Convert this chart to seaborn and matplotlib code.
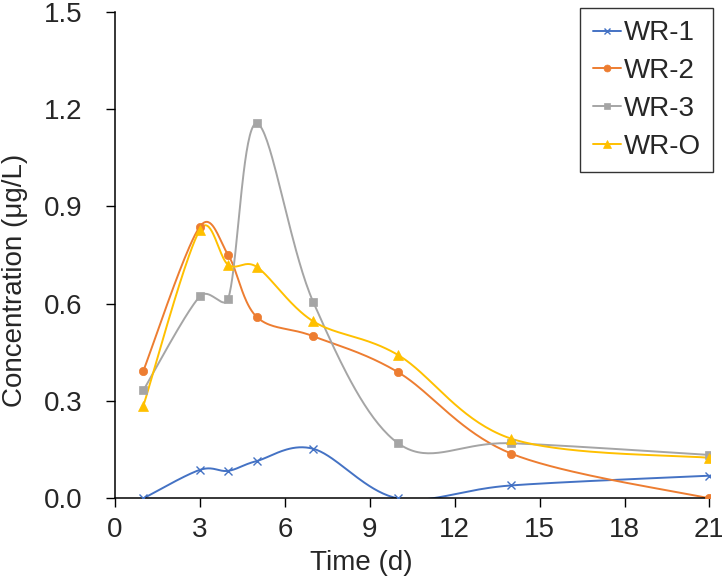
import numpy as np
import matplotlib
matplotlib.use("Agg")
import matplotlib.pyplot as plt
from matplotlib.lines import Line2D
import seaborn as sns

sns.set_style("ticks")
plt.rcParams['font.family'] = ['Liberation Sans', 'DejaVu Sans']

days = [1, 3, 4, 5, 7, 10, 14, 21]
wr1 = [0.0, 0.088, 0.085, 0.115, 0.153, 0.0, 0.040, 0.070]
wr2 = [0.393, 0.838, 0.750, 0.560, 0.500, 0.389, 0.138, 0.0]
wr3 = [0.333, 0.623, 0.616, 1.156, 0.606, 0.170, 0.170, 0.134]
wro = [0.285, 0.828, 0.720, 0.714, 0.546, 0.442, 0.184, 0.125]

names = ['WR-1', 'WR-2', 'WR-3', 'WR-O']
series = [wr1, wr2, wr3, wro]
colors = ['#4472C4', '#ED7D31', '#A5A5A5', '#FFC000']
markers = ['x', 'o', 's', '^']
msizes = [6, 6, 6, 7]

# pixel scale of the axes, used so the smoothing behaves like excel's
SX, SY = 594.5 / 21, 486.6 / 1.5


def smooth(xs, ys, n=40):
    # excel-like smoothed line: bezier segments, control arms kept short
    p = np.column_stack([np.array(xs) * SX, np.array(ys) * SY]).astype(float)
    p = np.vstack([p[0], p, p[-1]])
    out = []
    t = np.linspace(0, 1, n)[:, None]
    for i in range(1, len(p) - 2):
        a, b = p[i], p[i + 1]
        chord = np.linalg.norm(b - a)
        d1 = (p[i + 1] - p[i - 1]) / 6
        d2 = (p[i + 2] - p[i]) / 6
        for d in (d1, d2):
            L = np.linalg.norm(d)
            if L > 0.5 * chord:
                d *= 0.5 * chord / L
        c1 = a + d1
        c2 = b - d2
        seg = (1 - t) ** 3 * a + 3 * (1 - t) ** 2 * t * c1 + 3 * (1 - t) * t ** 2 * c2 + t ** 3 * b
        out.append(seg if i == 1 else seg[1:])
    s = np.vstack(out)
    return s[:, 0] / SX, s[:, 1] / SY


fig = plt.figure(figsize=(7.22, 5.81), dpi=100)
ax = fig.add_axes([115 / 722, 1 - 498.4 / 581, 594.5 / 722, 486.6 / 581])

handles = []
for name, ys, col, mk, ms in zip(names, series, colors, markers, msizes):
    sx, sy = smooth(days, ys)
    sns.lineplot(x=sx, y=sy, ax=ax, color=col, linewidth=1.4, sort=False, estimator=None)
    mew = 1.0 if mk == 'x' else 0.5
    ax.plot(days, ys, linestyle='none', marker=mk, color=col, markersize=ms,
            markeredgewidth=mew, zorder=3)
    handles.append(Line2D([], [], color=col, linewidth=1.4, marker=mk, markersize=ms - 1,
                          markeredgewidth=mew, label=name))

ax.set_xlim(0, 21)
ax.set_ylim(0, 1.5)
ax.set_xticks(range(0, 22, 3))
ax.set_yticks(np.arange(0, 1.51, 0.3))
ax.set_yticklabels(['0.0', '0.3', '0.6', '0.9', '1.2', '1.5'])
ax.tick_params(axis='both', labelsize=20, length=6.5, width=1.0, color='black')
ax.tick_params(axis='y', pad=17)
ax.tick_params(axis='x', pad=7)
for sp in ['top', 'right']:
    ax.spines[sp].set_visible(False)
for sp in ['left', 'bottom']:
    ax.spines[sp].set_linewidth(1.1)
    ax.spines[sp].set_color('black')

ax.set_xlabel('Time (d)', fontsize=20)
ax.set_ylabel('Concentration (μg/L)', fontsize=20)
ax.xaxis.set_label_coords(0.415, -0.106)
ax.yaxis.set_label_coords(-0.146, 0.449)

leg = fig.legend(handles=handles, loc='upper right', bbox_to_anchor=(713 / 722, 1 - 8 / 581),
                 fontsize=20, frameon=True, fancybox=False, edgecolor='black',
                 handlelength=1.0, handletextpad=0.1, labelspacing=0.42,
                 borderpad=0.45, borderaxespad=0)
leg.get_frame().set_linewidth(1.0)

fig.savefig('out.png', dpi=100)
